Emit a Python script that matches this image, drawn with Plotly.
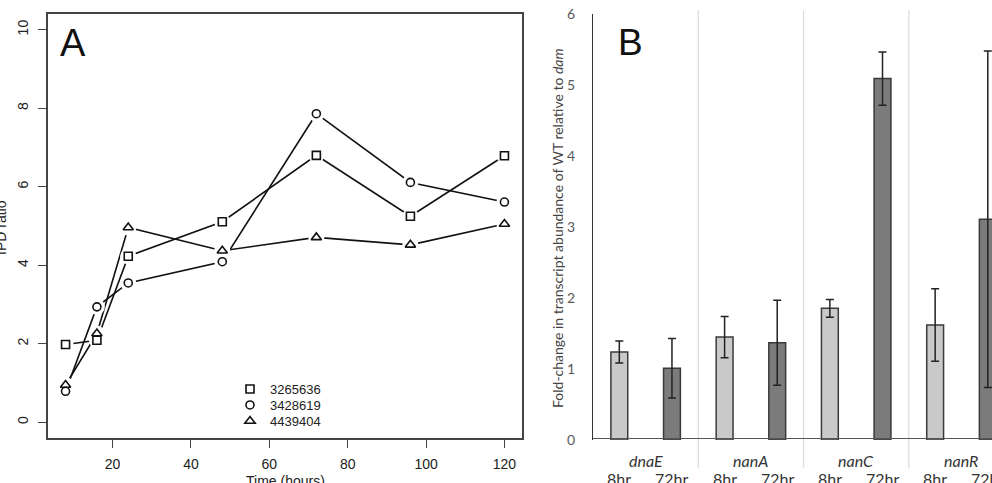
import plotly.graph_objects as go

# ---------------- Panel A data ----------------
time_hours = [8, 16, 24, 48, 72, 96, 120]
series_names = ["3265636", "3428619", "4439404"]
ipd_3265636 = [1.98, 2.09, 4.23, 5.11, 6.80, 5.25, 6.79]
ipd_3428619 = [0.79, 2.94, 3.55, 4.09, 7.86, 6.11, 5.61]
ipd_4439404 = [0.95, 2.26, 4.96, 4.37, 4.71, 4.52, 5.05]
symbols = ["square-open", "circle-open", "triangle-up-open"]
a_yticks = [0, 2, 4, 6, 8, 10]
a_xticks = [20, 40, 60, 80, 100, 120]

# ---------------- Panel B data ----------------
genes = ["dnaE", "nanA", "nanC", "nanR"]
timepoints = ["8hr", "72hr"]
fold_8hr = [1.24, 1.45, 1.855, 1.62]
err_8hr = [0.155, 0.29, 0.125, 0.51]
fold_72hr = [1.01, 1.37, 5.09, 3.11]
err_72hr = [0.42, 0.60, 0.375, 2.37]
b_yticks = [0, 1, 2, 3, 4, 5, 6]

W, H = 992, 483
fig = go.Figure()


def px_x(p):
    return p / W


def px_y(p):
    return 1 - p / H


font_a = "Liberation Sans, Arial, sans-serif"
font_b = "Lato, Open Sans, sans-serif"

# Panel A: lines with gaps around points (R type="b")
all_series = [ipd_3265636, ipd_3428619, ipd_4439404]
for vals in all_series:
    fig.add_trace(go.Scatter(x=time_hours, y=vals, mode="lines",
                             line=dict(color="#111111", width=1.6),
                             showlegend=False, hoverinfo="skip",
                             xaxis="x", yaxis="y"))
for vals in all_series:
    fig.add_trace(go.Scatter(x=time_hours, y=vals, mode="markers",
                             marker=dict(symbol="circle", size=16, color="white",
                                         line=dict(width=0)),
                             showlegend=False, hoverinfo="skip",
                             xaxis="x", yaxis="y"))
legend_ids = ["legend", "legend2", "legend3"]
for name, vals, sym, lid in zip(series_names, all_series, symbols, legend_ids):
    fig.add_trace(go.Scatter(x=time_hours, y=vals, mode="markers", name=name,
                             legend=lid,
                             marker=dict(symbol=sym, size=9 if "tri" in sym else 8,
                                         color="#111111",
                                         line=dict(width=1.6, color="#111111")),
                             xaxis="x", yaxis="y"))

# Panel B: bars
bar_colors = ["#c9c9c9", "#7b7b7b"]
for tp, vals, errs, col in zip(timepoints, [fold_8hr, fold_72hr], [err_8hr, err_72hr], bar_colors):
    fig.add_trace(go.Bar(x=genes, y=vals, name=tp, showlegend=False,
                         marker=dict(color=col, line=dict(color="#3a3a3a", width=1.5)),
                         error_y=dict(type="data", array=errs, visible=True,
                                      color="#222222", thickness=1.5, width=4),
                         xaxis="x2", yaxis="y2"))

legend_rows = [389, 405, 421]
leg_common = dict(xanchor="left", yanchor="middle", bgcolor="rgba(0,0,0,0)",
                  borderwidth=0, itemwidth=30,
                  font=dict(family=font_a, size=13, color="#222222"))

fig.update_layout(
    width=W, height=H,
    margin=dict(l=0, r=0, t=0, b=0, autoexpand=False),
    paper_bgcolor="white", plot_bgcolor="white",
    barmode="group", bargap=0.0, bargroupgap=0.68,
    showlegend=True,
    legend=dict(x=px_x(230), y=px_y(legend_rows[0]), **leg_common),
    legend2=dict(x=px_x(230), y=px_y(legend_rows[1]), **leg_common),
    legend3=dict(x=px_x(230), y=px_y(legend_rows[2]), **leg_common),
    xaxis=dict(domain=[px_x(48), px_x(522)], range=[3.52, 124.48], automargin=False,
               tickvals=a_xticks, ticks="outside", ticklen=8, tickcolor="#444",
               showline=True, linecolor="#444", linewidth=1.5, mirror=True,
               showgrid=False, zeroline=False, ticklabelstandoff=4,
               tickfont=dict(family=font_a, size=14, color="#222")),
    yaxis=dict(domain=[px_y(438), px_y(14)], range=[-0.4, 10.4], automargin=False,
               tickvals=a_yticks, ticks="outside", ticklen=8, tickcolor="#444",
               tickangle=-90, ticklabelstandoff=5,
               showline=True, linecolor="#444", linewidth=1.5, mirror=True,
               showgrid=False, zeroline=False,
               tickfont=dict(family=font_a, size=14, color="#222")),
    xaxis2=dict(domain=[px_x(593), 1.0], range=[-0.5, 3.29], type="category",
                automargin=False,
                showticklabels=False, ticks="", showline=True,
                linecolor="#555", linewidth=1.3, showgrid=False, zeroline=False),
    yaxis2=dict(domain=[px_y(440), px_y(14)], range=[0, 6], anchor="x2",
                automargin=False,
                tickvals=b_yticks, ticks="", showline=True, linecolor="#333",
                linewidth=1.3, showgrid=False, zeroline=False,
                ticklabelstandoff=14,
                tickfont=dict(family=font_b, size=14, color="#595959")),
)

shapes = []
for i in range(len(genes) - 1):
    shapes.append(dict(type="line", xref="x2", yref="paper",
                       x0=i + 0.5, x1=i + 0.5, y0=px_y(468), y1=px_y(10),
                       line=dict(color="#dddddd", width=1.3), layer="below"))
fig.update_layout(shapes=shapes)

ann = [
    dict(text="A", x=px_x(58), y=px_y(20), xref="paper", yref="paper",
         xanchor="left", yanchor="top", showarrow=False,
         font=dict(family=font_a, size=38, color="#111")),
    dict(text="B", x=px_x(616), y=px_y(20), xref="paper", yref="paper",
         xanchor="left", yanchor="top", showarrow=False,
         font=dict(family=font_a, size=37, color="#111")),
    dict(text="IPD ratio", x=px_x(1), y=px_y(228), xref="paper", yref="paper",
         xanchor="center", yanchor="middle", textangle=-90, showarrow=False,
         font=dict(family=font_a, size=14, color="#222")),
    dict(text="Time (hours)", x=px_x(285), y=px_y(471), xref="paper", yref="paper",
         xanchor="center", yanchor="top", showarrow=False,
         font=dict(family=font_a, size=14, color="#222")),
    dict(text="Fold-change in transcript abundance of WT relative to <i>dam</i>",
         x=px_x(557), y=px_y(228), xref="paper", yref="paper",
         xanchor="center", yanchor="middle", textangle=-90, showarrow=False,
         font=dict(family=font_b, size=14, color="#444")),
]
for i, g in enumerate(genes):
    ann.append(dict(text="<i>%s</i>" % g, x=i, y=px_y(460), xref="x2", yref="paper",
                    xanchor="center", yanchor="middle", showarrow=False,
                    font=dict(family=font_b, size=16, color="#333")))
    for j, tp in enumerate(timepoints):
        ann.append(dict(text=tp, x=i + (-0.25 if j == 0 else 0.25), y=px_y(467),
                        xref="x2", yref="paper", xanchor="center", yanchor="top",
                        showarrow=False,
                        font=dict(family=font_b, size=16, color="#333")))
fig.update_layout(annotations=ann)

fig.write_html("out.html")
